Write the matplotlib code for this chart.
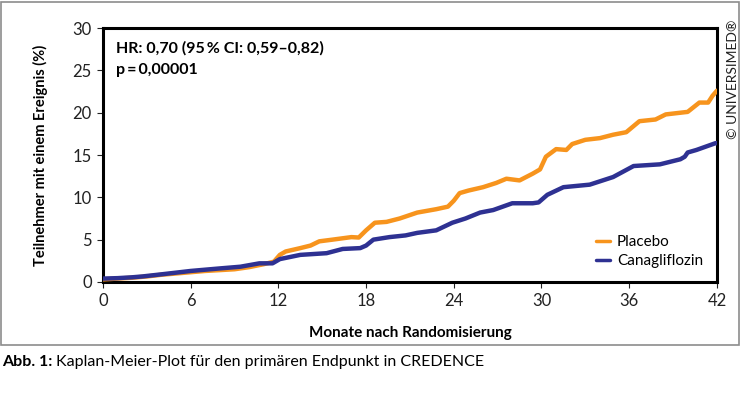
import matplotlib
matplotlib.use("Agg")
import matplotlib.pyplot as plt
from matplotlib.patches import Rectangle

plt.rcParams['font.family'] = ['Lato', 'DejaVu Sans']

# Kaplan-Meier curves (months, % with event)
placebo_months = [0, 1, 2, 3, 4, 5, 6, 7, 8, 9, 10, 11, 11.7, 12.1, 12.5, 13.5, 14.2,
                  14.8, 15.7, 17.0, 17.5, 18.0, 18.6, 19.4, 20.3, 21.5, 22.8, 23.6,
                  24.0, 24.4, 25.0, 26.0, 26.9, 27.6, 28.5, 29.4, 29.9, 30.3, 31.0,
                  31.7, 32.1, 33.0, 34.0, 34.9, 35.8, 36.7, 37.8, 38.5, 39.5, 40.0,
                  40.8, 41.4, 41.7, 42.0]
placebo_pct = [0.3, 0.4, 0.5, 0.65, 0.85, 1.0, 1.15, 1.3, 1.4, 1.5, 1.75, 2.1, 2.4, 3.2,
               3.6, 4.0, 4.3, 4.8, 5.0, 5.3, 5.25, 6.1, 7.0, 7.1, 7.5, 8.2, 8.6, 8.9,
               9.6, 10.5, 10.8, 11.2, 11.7, 12.2, 12.0, 12.8, 13.3, 14.8, 15.7, 15.6,
               16.3, 16.8, 17.0, 17.4, 17.7, 19.0, 19.2, 19.8, 20.0, 20.1, 21.2, 21.2,
               22.0, 22.6]

cana_months = [0, 1, 2, 2.7, 4, 5, 6, 7, 8, 9.4, 10.7, 11.6, 12.1, 13.5, 15.3, 16.4,
               17.6, 18.0, 18.5, 19.6, 20.7, 21.5, 22.8, 23.9, 24.8, 25.8, 26.7, 28.0,
               29.4, 29.8, 30.4, 31.5, 33.3, 34.9, 36.3, 38.1, 39.5, 39.8, 40.0, 40.6,
               41.9, 42.0]
cana_pct = [0.4, 0.45, 0.55, 0.65, 0.9, 1.1, 1.3, 1.45, 1.6, 1.8, 2.2, 2.2, 2.7, 3.2,
            3.4, 3.9, 4.0, 4.3, 5.0, 5.3, 5.5, 5.8, 6.1, 7.0, 7.5, 8.2, 8.5, 9.3, 9.3,
            9.4, 10.3, 11.2, 11.5, 12.4, 13.7, 13.9, 14.5, 14.8, 15.3, 15.6, 16.4, 16.4]

x_ticks = [0, 6, 12, 18, 24, 30, 36, 42]
y_ticks = [0, 5, 10, 15, 20, 25, 30]

orange = '#F7941D'
navy = '#2E3192'

fig = plt.figure(figsize=(7.46, 3.96), dpi=100)

# grey frame around the figure panel
fig.patches.append(Rectangle((0.002, 0.128), 0.989, 0.868, transform=fig.transFigure,
                             fill=False, edgecolor='#8c8c8c', linewidth=1.2))

ax = fig.add_axes([0.138, 0.288, 0.823, 0.641])
ax.plot(placebo_months, placebo_pct, color=orange, lw=3.2, solid_joinstyle='round',
        solid_capstyle='round', label='Placebo', zorder=3)
ax.plot(cana_months, cana_pct, color=navy, lw=3.2, solid_joinstyle='round',
        solid_capstyle='round', label='Canagliflozin', zorder=4)

ax.set_xlim(0, 42)
ax.set_ylim(0, 30)
ax.set_xticks(x_ticks)
ax.set_yticks(y_ticks)
ax.tick_params(direction='out', length=4, width=0.8, labelsize=12, pad=4,
               colors='#222222')
for sp in ax.spines.values():
    sp.set_linewidth(2.2)
    sp.set_color('black')

ax.set_xlabel('Monate nach Randomisierung', fontsize=11, fontweight='bold', labelpad=12)
ax.set_ylabel('Teilnehmer mit einem Ereignis (%)', fontsize=10.5, fontweight='bold',
              labelpad=18)

ax.text(0.022, 0.95, 'HR: 0,70 (95\u2009% CI: 0,59\u20130,82)', transform=ax.transAxes,
        fontsize=11.5, fontweight='bold', va='top', ha='left')
ax.text(0.022, 0.862, 'p\u2009=\u20090,00001', transform=ax.transAxes,
        fontsize=11.5, fontweight='bold', va='top', ha='left')

leg = ax.legend(loc='lower right', frameon=False, fontsize=11, handlelength=0.9,
                handletextpad=0.45, borderaxespad=0.5, labelspacing=0.35)
for line in leg.get_lines():
    line.set_linewidth(2.5)

fig.text(0.983, 0.95, '\u00a9 UNIVERSIMED\u00ae', rotation=90, ha='center', va='top',
         fontsize=10, color='#222222')

# caption with bold prefix
cap1 = fig.text(0.003, 0.085, 'Abb. 1:', fontsize=11.5, fontweight='bold',
                ha='left', va='center')
fig.canvas.draw()
bb = cap1.get_window_extent()
x_next = bb.x1 / fig.bbox.width
fig.text(x_next + 0.004, 0.085, 'Kaplan-Meier-Plot f\u00fcr den prim\u00e4ren Endpunkt in CREDENCE',
         fontsize=11.5, ha='left', va='center')

fig.savefig('out.png', dpi=100)
